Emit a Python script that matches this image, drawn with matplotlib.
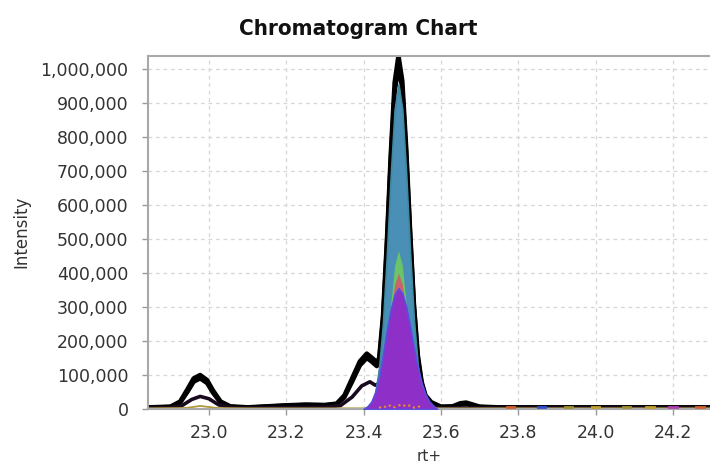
import matplotlib
matplotlib.use("Agg")
import numpy as np
import matplotlib.pyplot as plt
from matplotlib.ticker import FuncFormatter, MultipleLocator

# outer black traces (rt in min, intensity)
rt_black = [22.842, 22.90, 22.925, 22.945, 22.96, 22.977, 22.995, 23.01, 23.03, 23.055,
            23.10, 23.15, 23.20, 23.25, 23.30, 23.33, 23.35, 23.37, 23.39, 23.408,
            23.42, 23.434, 23.44, 23.45, 23.46, 23.47, 23.48, 23.49, 23.50, 23.51,
            23.52, 23.53, 23.54, 23.55, 23.56, 23.575, 23.60, 23.63, 23.65, 23.665,
            23.68, 23.70, 23.75, 24.30]
int_black1 = [5000, 7000, 22000, 60000, 90000, 100000, 85000, 55000, 22000, 8000,
              5000, 8000, 11000, 13000, 12000, 16000, 40000, 90000, 140000, 163000,
              152000, 138000, 150000, 275000, 495000, 750000, 960000, 1040000, 965000, 770000,
              530000, 310000, 160000, 80000, 40000, 20000, 7000, 8000, 17000, 19000,
              14000, 7000, 5000, 5000]
int_black2 = [4000, 6000, 18000, 52000, 80000, 90000, 76000, 48000, 18000, 6000,
              4000, 7000, 10000, 12000, 11000, 14000, 34000, 80000, 128000, 150000,
              140000, 126000, 140000, 262000, 480000, 730000, 930000, 1010000, 940000, 750000,
              515000, 300000, 150000, 75000, 36000, 17000, 6000, 6000, 13000, 15000,
              11000, 6000, 4000, 4000]

rt_low = [22.842, 22.90, 22.93, 22.955, 22.977, 23.00, 23.025, 23.06, 23.10, 23.30,
          23.34, 23.37, 23.395, 23.416, 23.43, 23.44, 23.45, 23.46, 23.48, 23.49,
          23.50, 23.52, 23.54, 23.56, 23.60, 24.30]
int_low = [3000, 4000, 10000, 28000, 37000, 30000, 12000, 4000, 3000, 5000,
           10000, 35000, 68000, 80000, 70000, 75000, 180000, 300000, 430000, 450000,
           400000, 160000, 35000, 8000, 3000, 3000]

# filled traces of the main peak
rt_teal = [23.40, 23.42, 23.43, 23.44, 23.45, 23.46, 23.47, 23.48, 23.49, 23.50,
           23.51, 23.52, 23.53, 23.54, 23.55, 23.56, 23.58]
int_teal = [0, 15000, 49000, 121000, 255000, 454000, 686000, 880000, 955000, 880000,
            690000, 460000, 262000, 128000, 55000, 20000, 0]

rt_mid = [23.42, 23.43, 23.44, 23.45, 23.46, 23.47, 23.48, 23.49, 23.50, 23.51,
          23.52, 23.53, 23.54, 23.55, 23.56]
int_green = [0, 11000, 35000, 89000, 183000, 309000, 421000, 466000, 421000, 309000,
             183000, 89000, 35000, 11000, 0]
int_red = [0, 17000, 45000, 100000, 183000, 282000, 366000, 399000, 366000, 282000,
           183000, 100000, 45000, 17000, 0]

rt_purple = [23.40, 23.41, 23.42, 23.43, 23.44, 23.45, 23.46, 23.47, 23.48, 23.49,
             23.50, 23.51, 23.52, 23.53, 23.54, 23.55, 23.56, 23.57, 23.58, 23.59]
int_purple = [0, 8000, 22000, 50000, 95000, 160000, 232000, 293000, 337000, 355000,
              340000, 300000, 242000, 180000, 122000, 76000, 43000, 22000, 10000, 0]

# small traces near the baseline
rt_olive = [22.842, 22.94, 22.977, 23.02, 23.10, 23.40, 23.50, 23.60, 24.30]
int_olive = [2000, 3000, 9000, 3000, 2000, 2000, 4000, 2000, 2000]

rt_orange = [23.44, 23.45, 23.46, 23.47, 23.48, 23.49, 23.50, 23.51, 23.52, 23.53, 23.54, 23.55]
int_orange = [3000, 9000, 4000, 12000, 5000, 10000, 14000, 6000, 11000, 4000, 9000, 3000]

speck_rt = [23.78, 23.86, 23.93, 24.00, 24.08, 24.14, 24.20, 24.27]
speck_int = [6000, 6000, 7000, 6000, 6000, 7000, 6000, 6000]
speck_col = ["#d06030", "#3050d0", "#a09030", "#c0a030", "#a09030", "#c0a030", "#b040b0", "#d06030"]

x_ticks = [23.0, 23.2, 23.4, 23.6, 23.8, 24.0, 24.2]


def main() -> None:
    fig = plt.figure(figsize=(7.1, 4.65), dpi=100)
    ax = fig.add_axes([148 / 710, 56 / 465, 562 / 710, 353 / 465])

    ax.plot(rt_black, int_black1, color="black", lw=3.2, zorder=2, solid_joinstyle="round")
    ax.plot(rt_black, int_black2, color="black", lw=3.2, zorder=2, solid_joinstyle="round")
    ax.plot(rt_low, int_low, color="#1a0a20", lw=2.6, zorder=2, solid_joinstyle="round")
    ax.plot(rt_olive, int_olive, color="#b09a3a", lw=1.3, zorder=2.5)

    ax.fill_between(rt_teal, int_teal, color="#4a8fb6", lw=1.2, edgecolor="#3f8aa0", zorder=3)
    ax.fill_between(rt_mid, int_green, color="#6cc46a", lw=0, zorder=4)
    ax.fill_between(rt_mid, int_red, color="#c8646a", lw=0, zorder=5)
    ax.fill_between(rt_purple, int_purple, color="#8e2fc8", lw=1.2, edgecolor="#5a4ee0", zorder=6)
    ax.plot(rt_orange, int_orange, color="#e8902a", lw=1.5, ls=":", zorder=7)
    for r, v, c in zip(speck_rt, speck_int, speck_col):
        ax.plot([r - 0.01, r + 0.01], [v, v], color=c, lw=2, zorder=3)

    ax.set_xlim(22.842, 24.296)
    ax.set_ylim(0, 1038000)
    ax.set_xticks(x_ticks)
    ax.xaxis.set_major_formatter(FuncFormatter(lambda v, _: f"{v:.1f}"))
    ax.yaxis.set_major_locator(MultipleLocator(100000))
    ax.yaxis.set_major_formatter(FuncFormatter(lambda v, _: f"{int(round(v)):,}"))

    ax.grid(True, color="#d6d6d6", lw=0.9, ls=(0, (3, 3)), zorder=0)
    ax.set_axisbelow(True)
    for side in ["left", "bottom", "top"]:
        ax.spines[side].set_color("#a8a8a8")
        ax.spines[side].set_linewidth(1.5)
    ax.spines["right"].set_visible(False)
    ax.tick_params(axis="both", colors="#999999", length=4, width=1,
                   labelsize=12.5, labelcolor="#333333")
    ax.tick_params(axis="y", pad=10)
    ax.tick_params(axis="x", pad=7)

    fig.text(358 / 710, 1 - 29 / 465, "Chromatogram Chart", ha="center", va="center",
             fontsize=16, fontweight="bold", fontstretch="condensed", color="#111111")
    fig.text(21 / 710, 1 - 232 / 465, "Intensity", rotation=90, ha="center", va="center",
             fontsize=12, color="#333333")
    fig.text(429 / 710, 1 - 449 / 465, "rt+", ha="center", va="top",
             fontsize=11, color="#333333")

    fig.savefig("out.png", dpi=100)


if __name__ == "__main__":
    main()
